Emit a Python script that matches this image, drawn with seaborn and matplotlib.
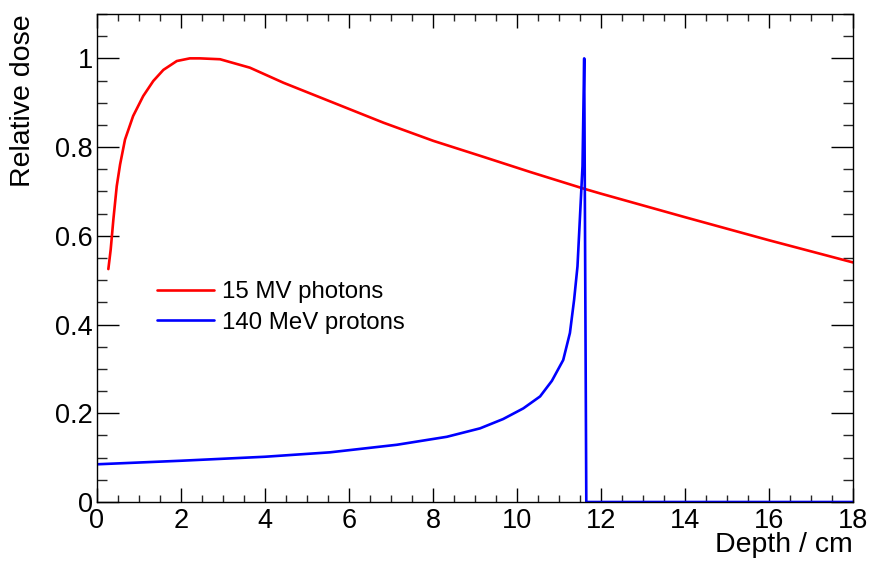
import matplotlib
matplotlib.use("Agg")
import matplotlib.pyplot as plt
import seaborn as sns
import pandas as pd
from matplotlib.ticker import MultipleLocator

photon_depth = [0.27, 0.326, 0.39, 0.47, 0.55, 0.667, 0.86, 1.10, 1.34, 1.58, 1.90, 2.21, 2.45, 2.93,
                3.64, 4.44, 5.63, 6.82, 8.01, 9.20, 10.31, 11.6, 12.0, 14.0, 16.0, 18.0]
photon_dose = [0.525, 0.569, 0.637, 0.712, 0.761, 0.817, 0.870, 0.915, 0.949, 0.974, 0.994, 1.000, 1.000, 0.998,
               0.979, 0.945, 0.900, 0.855, 0.814, 0.778, 0.744, 0.706, 0.695, 0.642, 0.590, 0.540]

proton_depth = [0.0, 2.0, 4.0, 5.55, 7.14, 8.33, 9.12, 9.67, 10.15, 10.55, 10.83, 11.10, 11.26, 11.36,
                11.44, 11.50, 11.56, 11.60, 11.65, 18.0]
proton_dose = [0.085, 0.093, 0.102, 0.112, 0.129, 0.147, 0.166, 0.187, 0.211, 0.238, 0.273, 0.320, 0.381, 0.456,
               0.531, 0.644, 0.757, 1.000, 0.0, 0.0]

labels = ["15 MV photons", "140 MeV protons"]
colors = ["#ff0000", "#0000ff"]

df = pd.concat([
    pd.DataFrame({"depth": photon_depth, "dose": photon_dose, "series": labels[0]}),
    pd.DataFrame({"depth": proton_depth, "dose": proton_dose, "series": labels[1]}),
], ignore_index=True)

sns.set_style("ticks")
plt.rcParams['font.family'] = ['Liberation Sans', 'DejaVu Sans']
plt.rcParams['text.color'] = 'black'
plt.rcParams['axes.labelcolor'] = 'black'

fig = plt.figure(figsize=(8.69, 5.65), dpi=100)
ax = fig.add_axes([97/869, 63/565, 756/869, 488/565])

sns.lineplot(data=df, x="depth", y="dose", hue="series", palette=colors,
             hue_order=labels, sort=False, estimator=None, linewidth=1.9, ax=ax)

ax.set_xlim(0, 18)
ax.set_ylim(0, 1.1)
ax.xaxis.set_major_locator(MultipleLocator(2))
ax.xaxis.set_minor_locator(MultipleLocator(0.5))
ax.yaxis.set_minor_locator(MultipleLocator(0.05))
ax.set_yticks([0, 0.2, 0.4, 0.6, 0.8, 1.0])
ax.set_yticklabels(["0", "0.2", "0.4", "0.6", "0.8", "1"])

for s in ax.spines.values():
    s.set_visible(True)
    s.set_color("black")
    s.set_linewidth(1.0)

ax.tick_params(axis="x", which="major", direction="in", length=10, width=1, top=True, bottom=True,
               labelsize=19.5, pad=4, colors="black")
ax.tick_params(axis="x", which="minor", direction="in", length=5, width=1, top=True, bottom=True)
ax.tick_params(axis="y", which="major", direction="in", length=15.5, width=1, left=True, right=True,
               labelsize=19.5, pad=3, colors="black")
ax.tick_params(axis="y", which="minor", direction="in", length=7.5, width=1, left=True, right=True)

ax.set_xlabel("Depth / cm", fontsize=20.5, loc="right", color="black")
ax.set_ylabel("Relative dose", fontsize=20.5, loc="top", color="black")
ax.xaxis.set_label_coords(1.0, -0.0615)
ax.yaxis.set_label_coords(-0.0807, 1.0)

leg = ax.legend(loc="center left", bbox_to_anchor=(0.079, 0.399), frameon=False,
                fontsize=17.3, handlelength=2.4, handletextpad=0.3, labelspacing=0.36,
                borderpad=0, borderaxespad=0)
for t in leg.get_texts():
    t.set_color("black")

fig.savefig("out.png", dpi=100)
